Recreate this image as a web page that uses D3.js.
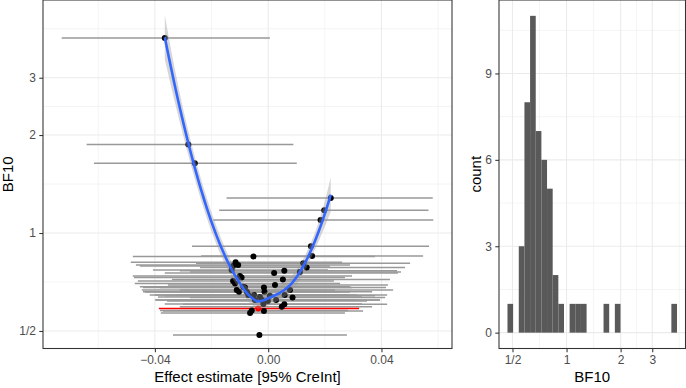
<!DOCTYPE html>
<html>
<head>
<meta charset="utf-8">
<script src="https://cdn.jsdelivr.net/npm/d3@7"></script>
<style>
  body { margin: 0; background: #fff; }
  svg { display: block; font-family: "Liberation Sans", Arial, sans-serif; }
</style>
</head>
<body>
<script>
// one row per analysis: effect estimate, 95% CreInt, BF10
const effect = [-0.0365,-0.0282,-0.0259,0.0221,0.0198,0.0185,0.0151,0.0155,-0.0052,-0.0115,
  -0.0106,0.0124,0.0136,-0.0124,-0.0100,-0.0129,0.0021,0.0057,-0.0094,0.0112,
  -0.0015,-0.0117,-0.0088,0.0024,0.0052,-0.0124,-0.0082,0.0086,0.0077,-0.0111,
  -0.0103,-0.0070,-0.0050,-0.0013,0.0058,-0.0029,-0.0075,0.0006,-0.0035,-0.0017,
  0.0057,0.0048,-0.0022,0.0028,-0.0001,-0.0047,-0.0058,-0.0064,-0.0015,-0.0031];
const ciLow = [-0.0729,-0.0641,-0.0615,-0.0147,-0.0173,-0.0194,-0.0269,-0.0237,-0.0478,-0.0485,
  -0.0467,-0.0255,-0.0241,-0.0453,-0.0478,-0.0407,-0.0365,-0.0312,-0.0474,-0.0276,
  -0.0382,-0.0471,-0.0453,-0.0354,-0.0340,-0.0460,-0.0442,-0.0276,-0.0312,-0.0446,
  -0.0442,-0.0418,-0.0400,-0.0389,-0.0319,-0.0389,-0.0435,-0.0365,-0.0386,-0.0365,
  -0.0301,-0.0312,-0.0396,-0.0347,-0.0357,-0.0400,-0.0382,-0.0379,-0.0372,-0.0336];
const ciHigh = [0.0006,0.0089,0.0101,0.0581,0.0566,0.0583,0.0568,0.0547,0.0377,0.0261,
  0.0289,0.0501,0.0483,0.0218,0.0296,0.0211,0.0458,0.0455,0.0271,0.0469,
  0.0416,0.0254,0.0289,0.0423,0.0430,0.0232,0.0296,0.0413,0.0441,0.0236,
  0.0254,0.0282,0.0314,0.0367,0.0420,0.0331,0.0289,0.0377,0.0321,0.0331,
  0.0420,0.0367,0.0395,0.0395,0.0349,0.0307,0.0282,0.0271,0.0335,0.0278];
const bf10 = [3.975,1.870,1.637,1.281,1.174,1.096,0.910,0.850,0.847,0.813,
  0.797,0.807,0.783,0.792,0.738,0.770,0.754,0.766,0.730,0.759,
  0.680,0.700,0.684,0.692,0.720,0.712,0.680,0.634,0.668,0.668,
  0.660,0.645,0.645,0.660,0.645,0.636,0.659,0.641,0.586,0.605,
  0.604,0.594,0.623,0.623,0.618,0.623,0.578,0.568,0.576,0.4862];
const highlight = 38; // the red one

const bfTicks = [0.5, 1, 2, 3];
const bfTickLabels = ["1/2", "1", "2", "3"];
const bfMinor = [Math.SQRT1_2, Math.SQRT2, Math.sqrt(6), Math.sqrt(18)];
const effectTicks = [-0.04, 0, 0.04];
const effectTickLabels = ["\u22120.04", "0.00", "0.04"];
const effectMinor = [-0.06, -0.02, 0.02, 0.06];
const countTicks = [0, 3, 6, 9];
const countMinor = [1.5, 4.5, 7.5, 10.5];

const width = 686, height = 388;
const panelTop = 0, panelBottom = 348.5;
const L = {x0: 43, x1: 452}, R = {x0: 499, x1: 685.5};

const svg = d3.select("body").append("svg")
  .attr("width", width).attr("height", height)
  .attr("viewBox", [0, 0, width, height]);

// ---------- loess (degree 2, span .75) like geom_smooth ----------
function loessRow(xs, x0, q) {
  const d = xs.map(x => Math.abs(x - x0));
  const h = d.slice().sort((a, b) => a - b)[q - 1] * 1.0000001;
  const w = d.map(v => v < h ? Math.pow(1 - Math.pow(v / h, 3), 3) : 0);
  const A = [[0,0,0],[0,0,0],[0,0,0]];
  xs.forEach((x, i) => {
    const u = [1, x - x0, (x - x0) * (x - x0)];
    for (let r = 0; r < 3; r++) for (let c = 0; c < 3; c++) A[r][c] += w[i] * u[r] * u[c];
  });
  // inverse of 3x3, first row only needed
  const [a, b, c] = A[0], [d2, e, f] = A[1], [g, hh, k] = A[2];
  const det = a*(e*k - f*hh) - b*(d2*k - f*g) + c*(d2*hh - e*g);
  const inv0 = [(e*k - f*hh) / det, -(b*k - c*hh) / det, (b*f - c*e) / det];
  return xs.map((x, i) => w[i] * (inv0[0] + inv0[1]*(x - x0) + inv0[2]*(x - x0)*(x - x0)));
}

const xs = effect.map(v => v * 100);
const ys = bf10.map(Math.log2);
const n = xs.length, q = Math.floor(n * 0.75);
const Lmat = xs.map(x => loessRow(xs, x, q));
const fitted = Lmat.map(row => d3.sum(row, (l, j) => l * ys[j]));
const rss = d3.sum(ys, (y, i) => (y - fitted[i]) ** 2);
const IL = Lmat.map((row, i) => row.map((l, j) => (i === j ? 1 : 0) - l));
const M = d3.range(n).map(i => d3.range(n).map(j => d3.sum(IL, row => row[i] * row[j])));
const delta1 = d3.sum(M, (row, i) => row[i]);
const delta2 = d3.sum(M, row => d3.sum(row, v => v * v));
const s = Math.sqrt(rss / delta1);
const df = delta1 * delta1 / delta2;
const z = 1.959964;
const tq = z + (z**3 + z) / (4*df) + (5*z**5 + 16*z**3 + 3*z) / (96*df*df);

const [xmin, xmax] = d3.extent(xs);
const smooth = d3.range(80).map(i => {
  const x0 = xmin + (xmax - xmin) * i / 79;
  const l = loessRow(xs, x0, q);
  const fit = d3.sum(l, (v, j) => v * ys[j]);
  const se = s * Math.sqrt(d3.sum(l, v => v * v));
  return {x: x0 / 100, y: 2 ** fit, lo: 2 ** (fit - tq * se), hi: 2 ** (fit + tq * se)};
});

// ---------- left panel ----------
const x1 = d3.scaleLinear().domain([-0.0795, 0.0649]).range([L.x0, L.x1]);
const y1 = d3.scaleLog().base(2).domain([0.4417, 5.20]).range([panelBottom, panelTop]);

svg.append("defs").append("clipPath").attr("id", "clipL")
  .append("rect").attr("x", L.x0).attr("y", panelTop)
  .attr("width", L.x1 - L.x0).attr("height", panelBottom - panelTop);

const gl = svg.append("g");
function grid(g, vals, scale, vertical, lw, x0, x1_, y0, y1_) {
  g.selectAll(null).data(vals).join("line")
    .attr("x1", d => vertical ? scale(d) : x0).attr("x2", d => vertical ? scale(d) : x1_)
    .attr("y1", d => vertical ? y0 : scale(d)).attr("y2", d => vertical ? y1_ : scale(d))
    .attr("stroke", "#ebebeb").attr("stroke-width", lw);
}
grid(gl, effectMinor, x1, true, 0.55, 0, 0, panelTop, panelBottom);
grid(gl, bfMinor, y1, false, 0.55, L.x0, L.x1);
grid(gl, effectTicks, x1, true, 1.07, 0, 0, panelTop, panelBottom);
grid(gl, bfTicks, y1, false, 1.07, L.x0, L.x1);

const plot = gl.append("g").attr("clip-path", "url(#clipL)");
const idx = d3.range(n);

plot.selectAll(".ci").data(idx.filter(i => i !== highlight)).join("line")
  .attr("x1", i => x1(ciLow[i])).attr("x2", i => x1(ciHigh[i]))
  .attr("y1", i => y1(bf10[i])).attr("y2", i => y1(bf10[i]))
  .attr("stroke", "#999999").attr("stroke-width", 1.5);
plot.append("line")
  .attr("x1", x1(ciLow[highlight])).attr("x2", x1(ciHigh[highlight]))
  .attr("y1", y1(bf10[highlight])).attr("y2", y1(bf10[highlight]))
  .attr("stroke", "red").attr("stroke-width", 1.5);

plot.selectAll(".pt").data(idx.filter(i => i !== highlight)).join("circle")
  .attr("cx", i => x1(effect[i])).attr("cy", i => y1(bf10[i]))
  .attr("r", 3).attr("fill", "black");
plot.append("circle")
  .attr("cx", x1(effect[highlight])).attr("cy", y1(bf10[highlight]))
  .attr("r", 3).attr("fill", "red");

plot.append("path").datum(smooth)
  .attr("d", d3.area().x(d => x1(d.x)).y0(d => y1(d.lo)).y1(d => y1(d.hi)))
  .attr("fill", "#999999").attr("fill-opacity", 0.4);
plot.append("path").datum(smooth)
  .attr("d", d3.line().x(d => x1(d.x)).y(d => y1(d.y)))
  .attr("fill", "none").attr("stroke", "#3366FF").attr("stroke-width", 2.6);

gl.append("rect").attr("x", L.x0).attr("y", panelTop)
  .attr("width", L.x1 - L.x0).attr("height", panelBottom - panelTop)
  .attr("fill", "none").attr("stroke", "#333333").attr("stroke-width", 1.07);

function styleAxis(g) {
  g.select(".domain").remove();
  g.selectAll(".tick line").attr("stroke", "#333333").attr("stroke-width", 1.07);
  g.selectAll(".tick text").attr("fill", "#4d4d4d").style("font-size", "12px")
    .style("font-family", "'Liberation Sans', Arial, sans-serif");
}

gl.append("g").attr("transform", `translate(0,${panelBottom})`)
  .call(d3.axisBottom(x1).tickValues(effectTicks)
    .tickFormat((d, i) => effectTickLabels[i]).tickSize(3.7).tickPadding(3.5))
  .call(styleAxis);
gl.append("g").attr("transform", `translate(${L.x0},0)`)
  .call(d3.axisLeft(y1).tickValues(bfTicks)
    .tickFormat((d, i) => bfTickLabels[i]).tickSize(3.7).tickPadding(3.3))
  .call(styleAxis);

gl.append("text").attr("x", (L.x0 + L.x1) / 2).attr("y", 382)
  .attr("text-anchor", "middle").style("font-size", "15px")
  .text("Effect estimate [95% CreInt]");
gl.append("text").attr("transform", `translate(13,${(panelTop + panelBottom) / 2}) rotate(-90)`)
  .attr("text-anchor", "middle").style("font-size", "15px").text("BF10");

// ---------- right panel: histogram of BF10 (30 bins on log scale) ----------
const lb = bf10.map(Math.log2);
const [l0, l1] = d3.extent(lb);
const bw = (l1 - l0) / 29;
const edges = d3.range(31).map(k => l0 - bw / 2 + k * bw);
const bins = d3.bin().domain([edges[0], edges[30]]).thresholds(edges.slice(1, 30))(lb);
const maxCount = d3.max(bins, b => b.length);

const xr = [edges[0], edges[30]], xpad = (xr[1] - xr[0]) * 0.05;
const x2 = d3.scaleLog().base(2).domain([2 ** (xr[0] - xpad), 2 ** (xr[1] + xpad)]).range([R.x0, R.x1]);
const y2 = d3.scaleLinear().domain([-0.05 * maxCount, maxCount * 1.05]).range([panelBottom, panelTop]);

const gr = svg.append("g");
grid(gr, bfMinor, x2, true, 0.55, 0, 0, panelTop, panelBottom);
grid(gr, countMinor, y2, false, 0.55, R.x0, R.x1);
grid(gr, bfTicks, x2, true, 1.07, 0, 0, panelTop, panelBottom);
grid(gr, countTicks, y2, false, 1.07, R.x0, R.x1);

gr.selectAll(".bar").data(bins.filter(b => b.length > 0)).join("rect")
  .attr("x", b => x2(2 ** b.x0)).attr("width", b => x2(2 ** b.x1) - x2(2 ** b.x0))
  .attr("y", b => y2(b.length)).attr("height", b => y2(0) - y2(b.length))
  .attr("fill", "#595959");

gr.append("rect").attr("x", R.x0).attr("y", panelTop)
  .attr("width", R.x1 - R.x0).attr("height", panelBottom - panelTop)
  .attr("fill", "none").attr("stroke", "#333333").attr("stroke-width", 1.07);

gr.append("g").attr("transform", `translate(0,${panelBottom})`)
  .call(d3.axisBottom(x2).tickValues(bfTicks)
    .tickFormat((d, i) => bfTickLabels[i]).tickSize(3.7).tickPadding(3.5))
  .call(styleAxis);
gr.append("g").attr("transform", `translate(${R.x0},0)`)
  .call(d3.axisLeft(y2).tickValues(countTicks).tickSize(3.7).tickPadding(3.3))
  .call(styleAxis);

gr.append("text").attr("x", (R.x0 + R.x1) / 2).attr("y", 382)
  .attr("text-anchor", "middle").style("font-size", "15px").text("BF10");
gr.append("text").attr("transform", `translate(480.5,${(panelTop + panelBottom) / 2}) rotate(-90)`)
  .attr("text-anchor", "middle").style("font-size", "15px").text("count");
</script>
</body>
</html>
